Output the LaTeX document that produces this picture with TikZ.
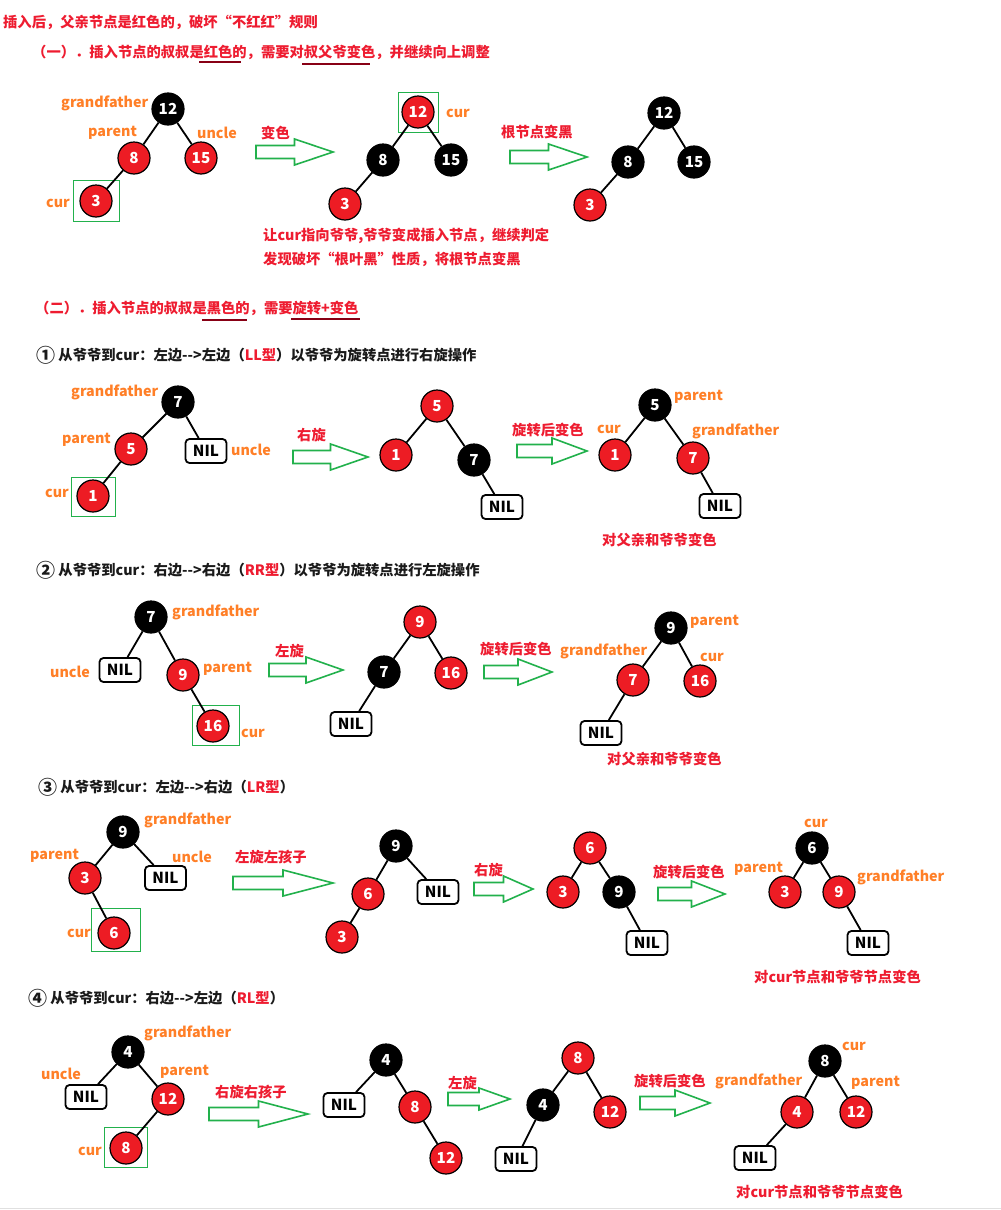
\documentclass[tikz,border=0pt]{standalone}
\usepackage{fontspec}
\setmainfont{Noto Sans CJK SC}
\definecolor{rbred}{HTML}{ED1C24}
\definecolor{tred}{HTML}{EE1C30}
\definecolor{lorange}{HTML}{FF7F27}
\definecolor{garr}{HTML}{22B14C}
\definecolor{dred}{HTML}{880015}
\definecolor{tblack}{HTML}{1A1A1A}
\newcommand\tf{\fontsize{14.3pt}{17pt}\selectfont\bfseries}
\newcommand\nf{\fontsize{15.2pt}{17pt}\selectfont\bfseries}
\newcommand\cnum[1]{\raisebox{-1.5pt}{\fontsize{19pt}{19pt}\selectfont #1}}
\tikzset{
  rb/.style={circle, fill=rbred, draw=black, line width=1.2pt, minimum size=32pt, inner sep=0pt, text=white, font=\nf},
  bb/.style={circle, fill=black, draw=black, line width=1.2pt, minimum size=32pt, inner sep=0pt, text=white, font=\nf},
  nil/.style={draw=black, fill=white, line width=1.8pt, rounded corners=4pt, minimum width=41pt, minimum height=24pt, inner sep=0pt, font=\nf},
  edge/.style={line width=1.8pt},
  lbl/.style={text=lorange, anchor=west, inner sep=0pt, font=\tf},
  rtxt/.style={text=tred, anchor=west, inner sep=0pt, font=\tf},
  ktxt/.style={text=tblack, anchor=west, inner sep=0pt, font=\tf},
  sqbox/.style={draw=garr, line width=1pt, inner sep=0pt},
  garrow/.style={draw=garr, line width=1.6pt, fill=white},
  uline/.style={draw=dred, line width=2pt}
}
\newcommand\GA[4][13]{%
  \draw[garrow] (#2,{#4-6.5}) -- ({(#2+#3)/2},{#4-6.5}) -- ({(#2+#3)/2},{#4-#1}) -- (#3,#4)
    -- ({(#2+#3)/2},{#4+#1}) -- ({(#2+#3)/2},{#4+6.5}) -- (#2,{#4+6.5}) -- cycle;}
\begin{document}
\begin{tikzpicture}[x=1pt,y=-1pt]
\fill[white] (0,0) rectangle (1001,1210);
\useasboundingbox (0,0) rectangle (1001,1210);
\draw[black!12, line width=1pt] (0,1208.5) -- (1001,1208.5);

% ---------------- headers ----------------
\node[rtxt] (h0) at (3,22) {插入后，父亲节点是红色的，破坏“不红红”规则};
\node[rtxt] (h1) at (32,52) {（一）．插入节点的叔叔是红色的，需要对叔父爷变色，并继续向上调整};
\draw[uline] (199,62) -- (241,62);
\draw[uline] (302,64) -- (370,64);

% ---------------- section 1 ----------------
\node[sqbox, minimum width=46pt, minimum height=41pt] (Asq) at (96,201) {};
\node[bb] (A12) at (168,109) {12};
\node[rb] (A8) at (134,158) {8};
\node[rb] (A15) at (201,158) {15};
\node[rb] (A3) at (96,201) {3};
\draw[edge] (A12) -- (A8) (A12) -- (A15) (A8) -- (A3);
\node[lbl] (Agf) at (61,103) {grandfather};
\node[lbl] (Ap) at (88,133) {parent};
\node[lbl] (Au) at (197,133) {uncle};
\node[lbl] (Ac) at (46,203) {cur};
\GA{256}{333}{152}
\node[rtxt] (Al) at (261,133) {变色};

\node[sqbox, minimum width=40pt, minimum height=40pt] (Bsq) at (418,112) {};
\node[rb] (B12) at (418,112) {12};
\node[bb] (B8) at (383,160) {8};
\node[bb] (B15) at (451,160) {15};
\node[rb] (B3) at (345,204) {3};
\draw[edge] (B12) -- (B8) (B12) -- (B15) (B8) -- (B3);
\node[lbl] (Bc) at (446,113) {cur};
\GA{510}{587}{157}
\node[rtxt] (Bl) at (501,132) {根节点变黑};

\node[bb] (C12) at (664,113) {12};
\node[bb] (C8) at (628,162) {8};
\node[bb] (C15) at (694,162) {15};
\node[rb] (C3) at (590,205) {3};
\draw[edge] (C12) -- (C8) (C12) -- (C15) (C8) -- (C3);

\node[rtxt] (t1) at (263,236) {让cur指向爷爷,爷爷变成插入节点，继续判定};
\node[rtxt] (t2) at (263,259) {发现破坏“根叶黑”性质，将根节点变黑};

% ---------------- section 2 header ----------------
\node[rtxt] (h2) at (35,308) {（二）．插入节点的叔叔是黑色的，需要旋转+变色};
\draw[uline] (202,320) -- (247,320);
\draw[uline] (291,319) -- (360,319);

% ---------------- case 1 ----------------
\node[ktxt] (c1) at (36,355) {\cnum{①} 从爷爷到cur：左边-{}->左边（\textcolor{tred}{LL型}）以爷爷为旋转点进行右旋操作};
\node[sqbox, minimum width=44pt, minimum height=39pt] (Dsq) at (93,496.5) {};
\node[bb] (D7) at (178,402) {7};
\node[rb] (D5) at (131,449) {5};
\node[nil] (DN) at (206,451) {NIL};
\node[rb] (D1) at (93,496) {1};
\draw[edge] (D7) -- (D5) (D7) -- (DN) (D5) -- (D1);
\node[lbl] (Dgf) at (71,392) {grandfather};
\node[lbl] (Dp) at (62,440) {parent};
\node[lbl] (Du) at (231,450) {uncle};
\node[lbl] (Dc) at (45,493) {cur};
\GA{293}{368}{457}
\node[rtxt] (Dl) at (297,435) {右旋};

\node[rb] (E5) at (437,406) {5};
\node[rb] (E1) at (396,455) {1};
\node[bb] (E7) at (474,460) {7};
\node[nil] (EN) at (502,507) {NIL};
\draw[edge] (E5) -- (E1) (E5) -- (E7) (E7) -- (EN);
\GA{517}{587}{451}
\node[rtxt] (El) at (512,430) {旋转后变色};

\node[bb] (F5) at (655,405) {5};
\node[rb] (F1) at (615,455) {1};
\node[rb] (F7) at (693,458) {7};
\node[nil] (FN) at (720,506) {NIL};
\draw[edge] (F5) -- (F1) (F5) -- (F7) (F7) -- (FN);
\node[lbl] (Fp) at (674,397) {parent};
\node[lbl] (Fc) at (597,429) {cur};
\node[lbl] (Fgf) at (692,431) {grandfather};
\node[rtxt] (Ft) at (602,540) {对父亲和爷爷变色};

% ---------------- case 2 ----------------
\node[ktxt] (c2) at (36,570) {\cnum{②} 从爷爷到cur：右边-{}->右边（\textcolor{tred}{RR型}）以爷爷为旋转点进行左旋操作};
\node[sqbox, minimum width=47pt, minimum height=40pt] (Gsq) at (215.5,725) {};
\node[bb] (G7) at (151,617) {7};
\node[nil] (GN) at (120,670) {NIL};
\node[rb] (G9) at (183,675) {9};
\node[rb] (G16) at (213,726) {16};
\draw[edge] (G7) -- (GN) (G7) -- (G9) (G9) -- (G16);
\node[lbl] (Ggf) at (172,612) {grandfather};
\node[lbl] (Gu) at (50,672) {uncle};
\node[lbl] (Gp) at (203,669) {parent};
\node[lbl] (Gc) at (241,733) {cur};
\GA{269}{343}{670}
\node[rtxt] (Gl) at (275,651) {左旋};

\node[rb] (H9) at (420,622) {9};
\node[bb] (H7) at (384,672) {7};
\node[rb] (H16) at (451,673) {16};
\node[nil] (HN) at (351,724) {NIL};
\draw[edge] (H9) -- (H7) (H9) -- (H16) (H7) -- (HN);
\GA{484}{552}{672}
\node[rtxt] (Hl) at (480,649) {旋转后变色};

\node[bb] (I9) at (671,628) {9};
\node[rb] (I7) at (633,680) {7};
\node[rb] (I16) at (700,681) {16};
\node[nil] (IN) at (601,733) {NIL};
\draw[edge] (I9) -- (I7) (I9) -- (I16) (I7) -- (IN);
\node[lbl] (Ip) at (690,622) {parent};
\node[lbl] (Igf) at (560,651) {grandfather};
\node[lbl] (Ic) at (700,657) {cur};
\node[rtxt] (It) at (607,759) {对父亲和爷爷变色};

% ---------------- case 3 ----------------
\node[ktxt] (c3) at (38,787) {\cnum{③} 从爷爷到cur：左边-{}->右边（\textcolor{tred}{LR型}）};
\node[sqbox, minimum width=49pt, minimum height=43pt] (Jsq) at (115.5,929.5) {};
\node[bb] (J9) at (123,832) {9};
\node[rb] (J3) at (85,878) {3};
\node[nil] (JN) at (165.5,878) {NIL};
\node[rb] (J6) at (114,933) {6};
\draw[edge] (J9) -- (J3) (J9) -- (JN) (J3) -- (J6);
\node[lbl] (Jgf) at (144,820) {grandfather};
\node[lbl] (Jp) at (30,856) {parent};
\node[lbl] (Ju) at (172,857) {uncle};
\node[lbl] (Jc) at (67,933) {cur};
\GA{233}{333}{883}
\node[rtxt] (Jl) at (235,857) {左旋左孩子};

\node[bb] (K9) at (396,846) {9};
\node[rb] (K6) at (368,894) {6};
\node[nil] (KN) at (438,892) {NIL};
\node[rb] (K3) at (342,937) {3};
\draw[edge] (K9) -- (K6) (K9) -- (KN) (K6) -- (K3);
\GA{474}{533}{889}
\node[rtxt] (Kl) at (474,870) {右旋};

\node[rb] (L6) at (590,848) {6};
\node[rb] (L3) at (563,892) {3};
\node[bb] (L9) at (619,892) {9};
\node[nil] (LN) at (647,943) {NIL};
\draw[edge] (L6) -- (L3) (L6) -- (L9) (L9) -- (LN);
\GA{658}{725}{894}
\node[rtxt] (Ll) at (653,872) {旋转后变色};

\node[bb] (M6) at (812,848) {6};
\node[rb] (M3) at (785,892) {3};
\node[rb] (M9) at (839,892) {9};
\node[nil] (MN) at (868,943) {NIL};
\draw[edge] (M6) -- (M3) (M6) -- (M9) (M9) -- (MN);
\node[lbl] (Mc) at (804,823) {cur};
\node[lbl] (Mp) at (734,869) {parent};
\node[lbl] (Mgf) at (857,877) {grandfather};
\node[rtxt] (Mt) at (754,977) {对cur节点和爷爷节点变色};

% ---------------- case 4 ----------------
\node[ktxt] (c4) at (28,998) {\cnum{④} 从爷爷到cur：右边-{}->左边（\textcolor{tred}{RL型}）};
\node[sqbox, minimum width=43pt, minimum height=40pt] (Nsq) at (125.5,1147) {};
\node[bb] (N4) at (128,1052) {4};
\node[nil] (NN) at (86,1097) {NIL};
\node[rb] (N12) at (168,1099) {12};
\node[rb] (N8) at (126,1148) {8};
\draw[edge] (N4) -- (NN) (N4) -- (N12) (N12) -- (N8);
\node[lbl] (Ngf) at (144,1033) {grandfather};
\node[lbl] (Nu) at (41,1074) {uncle};
\node[lbl] (Np) at (160,1072) {parent};
\node[lbl] (Nc) at (78,1151) {cur};
\GA{209}{308}{1114}
\node[rtxt] (Nl) at (215,1092) {右旋右孩子};

\node[bb] (O4) at (386,1060) {4};
\node[nil] (ON) at (344,1105) {NIL};
\node[rb] (O8) at (415,1107) {8};
\node[rb] (O12) at (446,1158) {12};
\draw[edge] (O4) -- (ON) (O4) -- (O8) (O8) -- (O12);
\GA[11]{448}{510}{1099}
\node[rtxt] (Ol) at (448,1083) {左旋};

\node[rb] (P8) at (578,1058) {8};
\node[bb] (P4) at (543,1105) {4};
\node[rb] (P12) at (610,1112) {12};
\node[nil] (PN) at (516,1159) {NIL};
\draw[edge] (P8) -- (P4) (P8) -- (P12) (P4) -- (PN);
\GA{640}{710}{1103}
\node[rtxt] (Pl) at (634,1081) {旋转后变色};

\node[bb] (Q8) at (825,1061) {8};
\node[rb] (Q4) at (797,1112) {4};
\node[rb] (Q12) at (856,1112) {12};
\node[nil] (QN) at (755,1158) {NIL};
\draw[edge] (Q8) -- (Q4) (Q8) -- (Q12) (Q4) -- (QN);
\node[lbl] (Qc) at (842,1046) {cur};
\node[lbl] (Qgf) at (715,1081) {grandfather};
\node[lbl] (Qp) at (851,1083) {parent};
\node[rtxt] (Qt) at (736,1192) {对cur节点和爷爷节点变色};
\end{tikzpicture}
\end{document}
